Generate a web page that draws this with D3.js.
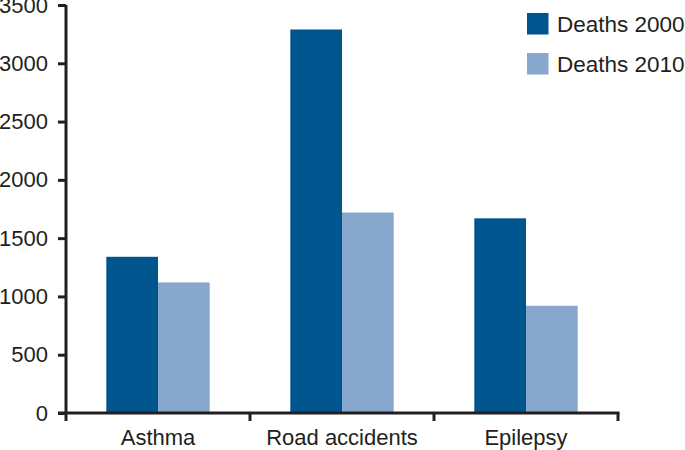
<!DOCTYPE html>
<html>
<head>
<meta charset="utf-8">
<script src="https://cdn.jsdelivr.net/npm/d3@7"></script>
<style>
  html, body { margin: 0; padding: 0; background: #fff; }
  svg { display: block; }
  text { font-family: "Liberation Sans", Arial, Helvetica, sans-serif; fill: #231f20; }
</style>
</head>
<body>
<svg id="chart" width="685" height="450"></svg>
<script>
const categories = ["Asthma", "Road accidents", "Epilepsy"];
const seriesNames = ["Deaths 2000", "Deaths 2010"];
const deaths2000 = [1340, 3290, 1670];
const deaths2010 = [1120, 1720, 920];
const yTicks = [0, 500, 1000, 1500, 2000, 2500, 3000, 3500];
const colors = ["#00558f", "#87a7cc"];

const svg = d3.select("#chart");
const axisColor = "#231f20";
const fontSize = 22;

const x0 = d3.scaleBand().domain(categories).range([66, 618]).paddingInner(0).paddingOuter(0);
const x1 = d3.scaleBand().domain(seriesNames).range([0, x0.bandwidth()]).paddingInner(0).paddingOuter(0.78);
const y = d3.scaleLinear().domain([0, 3500]).range([413, 5]);

const color = d3.scaleOrdinal().domain(seriesNames).range(colors);

const rows = categories.map((c, i) => ({ cat: c, values: [
  { name: seriesNames[0], v: deaths2000[i] },
  { name: seriesNames[1], v: deaths2010[i] }
]}));

// bars
const g = svg.append("g");
g.selectAll("g.cat").data(rows).join("g")
  .attr("transform", d => `translate(${x0(d.cat)},0)`)
  .selectAll("rect").data(d => d.values).join("rect")
  .attr("x", d => x1(d.name))
  .attr("width", x1.bandwidth())
  .attr("y", d => y(d.v))
  .attr("height", d => y(0) - y(d.v))
  .attr("fill", d => color(d.name));

// y axis
const yAxis = svg.append("g").attr("transform", "translate(66,0)")
  .call(d3.axisLeft(y).tickValues(yTicks).tickFormat(d3.format("d")).tickSize(8).tickPadding(10).tickSizeOuter(0));
yAxis.select(".domain").remove();
yAxis.append("line").attr("x1", 0).attr("x2", 0).attr("y1", y(3500)).attr("y2", 421)
  .attr("stroke", axisColor).attr("stroke-width", 3);
yAxis.selectAll(".tick line").attr("stroke", axisColor).attr("stroke-width", 3);
yAxis.selectAll(".tick text").attr("font-size", fontSize).attr("fill", axisColor)
  .attr("font-family", "Liberation Sans, Arial, sans-serif");

// x axis
const xAxis = svg.append("g").attr("transform", `translate(0,${y(0)})`)
  .call(d3.axisBottom(x0).tickSize(0).tickPadding(16));
xAxis.select(".domain").remove();
xAxis.append("line").attr("x1", 58).attr("x2", 619.5).attr("y1", 0).attr("y2", 0)
  .attr("stroke", axisColor).attr("stroke-width", 3);
const boundaries = [...categories.map(c => x0(c)), x0.range()[1]];
xAxis.selectAll("line.bt").data(boundaries.slice(1)).join("line").attr("class", "bt")
  .attr("x1", d => d).attr("x2", d => d).attr("y1", 0).attr("y2", 8)
  .attr("stroke", axisColor).attr("stroke-width", 3);
xAxis.selectAll(".tick text").attr("font-size", fontSize).attr("fill", axisColor)
  .attr("font-family", "Liberation Sans, Arial, sans-serif");

// legend
const legend = svg.append("g").attr("transform", "translate(527,13)");
const li = legend.selectAll("g").data(seriesNames).join("g")
  .attr("transform", (d, i) => `translate(0,${i * 40})`);
li.append("rect").attr("width", 21.5).attr("height", 21.5).attr("fill", d => color(d));
li.append("text").attr("x", 30).attr("y", 11).attr("dy", "0.35em")
  .attr("font-size", 22.5).text(d => d);
</script>
</body>
</html>
